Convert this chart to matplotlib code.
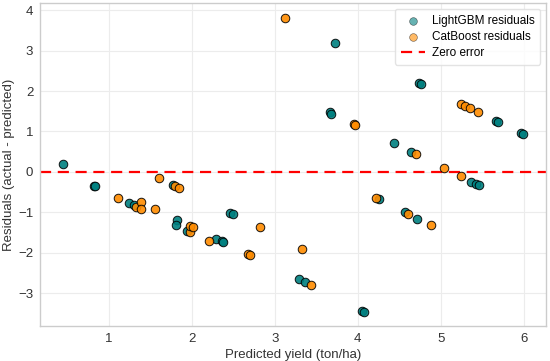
import matplotlib
matplotlib.use("Agg")
import matplotlib.pyplot as plt

plt.rcParams['font.family'] = ['Liberation Sans', 'DejaVu Sans']

# residuals
lgbm_pred = [0.45, 0.82, 0.83, 1.24, 1.30, 1.77, 1.82, 1.81, 1.94, 2.29, 2.36, 2.38,
             2.46, 2.49, 3.29, 3.36, 3.66, 3.68, 3.73, 4.05, 4.08, 4.25, 4.43, 4.57,
             4.64, 4.71, 4.74, 4.76, 5.37, 5.43, 5.46, 5.67, 5.69, 5.97, 5.99]
lgbm_resid = [0.20, -0.34, -0.36, -0.76, -0.82, -0.33, -1.18, -1.32, -1.45, -1.65, -1.71, -1.73,
              -1.02, -1.04, -2.64, -2.73, 1.47, 1.44, 3.19, -3.43, -3.47, -0.68, 0.71, -1.00,
              0.49, -1.16, 2.19, 2.17, -0.25, -0.30, -0.33, 1.25, 1.23, 0.96, 0.94]

cat_pred = [1.11, 1.33, 1.39, 1.38, 1.55, 1.60, 1.80, 1.84, 1.98, 1.98, 2.01, 2.20,
            2.67, 2.70, 2.82, 3.12, 3.33, 3.43, 3.95, 3.97, 4.22, 4.60, 4.70, 4.88,
            5.04, 5.24, 5.24, 5.29, 5.35, 5.45]
cat_resid = [-0.64, -0.86, -0.74, -0.91, -0.91, -0.15, -0.35, -0.39, -1.49, -1.34, -1.37, -1.72,
             -2.03, -2.06, -1.37, 3.80, -1.90, -2.79, 1.18, 1.16, -0.65, -1.04, 0.44, -1.31,
             0.09, -0.11, 1.68, 1.63, 1.57, 1.48]

fig = plt.figure(figsize=(5.5, 3.61), dpi=100)
ax = fig.add_axes([0.073, 0.097, 0.92, 0.895])

ax.scatter(lgbm_pred, lgbm_resid, s=38, color='#008080', edgecolor='black',
           linewidth=0.7, alpha=0.9, label='LightGBM residuals', zorder=3)
ax.scatter(cat_pred, cat_resid, s=38, color='#ff8c00', edgecolor='black',
           linewidth=0.7, alpha=0.9, label='CatBoost residuals', zorder=3)
ax.axhline(0, color='red', linestyle='--', linewidth=1.6, dashes=(5, 3),
           label='Zero error', zorder=2)

ax.set_xlim(0.17, 6.27)
ax.set_ylim(-3.81, 4.18)
ax.set_xticks([1, 2, 3, 4, 5, 6])
ax.set_yticks([-3, -2, -1, 0, 1, 2, 3, 4])
ax.set_yticklabels(['\u22123', '\u22122', '\u22121', '0', '1', '2', '3', '4'])

ax.grid(True, color='#ececec', linewidth=0.8)
for s in ax.spines.values():
    s.set_color('#cccccc')
    s.set_linewidth(1.0)
ax.tick_params(length=0, labelsize=9.5, colors='#333333', pad=5)

ax.set_xlabel('Predicted yield (ton/ha)', fontsize=9.5, color='#333333', labelpad=3)
ax.set_ylabel('Residuals (actual - predicted)', fontsize=9.5, color='#333333', labelpad=2)

leg = ax.legend(loc='upper right', fontsize=8.5, frameon=True, edgecolor='#dddddd',
                borderpad=0.5, handletextpad=0.6, labelspacing=0.35, markerscale=0.9)
for h in leg.legend_handles[:2]:
    h.set_alpha(0.6)
    h.set_linewidth(0.4)

fig.savefig('out.png', dpi=100)
